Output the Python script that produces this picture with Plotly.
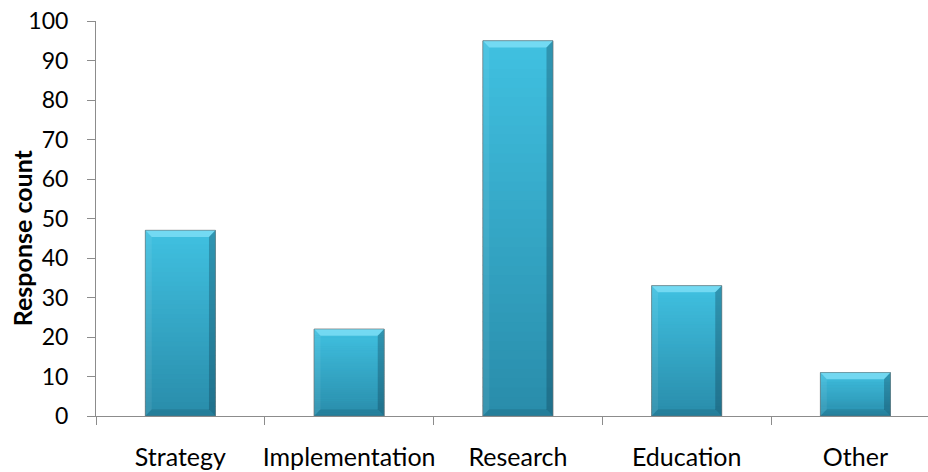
import plotly.graph_objects as go

# Survey responses by area
categories = ["Strategy", "Implementation", "Research", "Education", "Other"]
counts = [47, 22, 95, 33, 11]
y_tick_values = list(range(0, 101, 10))

FONT = "Lato"
BAR_W = 0.415
BEVEL_X = 0.038   # bevel depth along x (category units)
BEVEL_Y = 1.7     # bevel depth along y (count units)
N_BANDS = 40      # steps of the vertical gradient

TOP_RGB = (64, 193, 225)
BOTTOM_RGB = (41, 140, 170)


def mix(a, b, t):
    return "rgb(%d,%d,%d)" % tuple(round(a[i] + (b[i] - a[i]) * t) for i in range(3))


xs = list(range(len(categories)))

fig = go.Figure()
fig.add_trace(go.Bar(
    x=xs,
    y=counts,
    width=BAR_W,
    marker=dict(color=mix(BOTTOM_RGB, TOP_RGB, 0.5),
                line=dict(color="rgba(110,110,110,0.55)", width=1)),
    hoverinfo="x+y",
))

shapes = []
for xc, v in zip(xs, counts):
    x0, x1 = xc - BAR_W / 2, xc + BAR_W / 2
    # vertical gradient, darker towards the base
    for k in range(N_BANDS):
        lo = v * k / N_BANDS
        hi = v * (k + 1) / N_BANDS
        t = (k + 0.5) / N_BANDS
        shapes.append(dict(type="rect", xref="x", yref="y",
                           x0=x0, x1=x1, y0=lo, y1=min(v, hi + v * 0.004),
                           fillcolor=mix(BOTTOM_RGB, TOP_RGB, t),
                           line=dict(width=0), layer="above"))
    by = min(BEVEL_Y, v / 4)
    bevels = [
        # top face highlight
        ([(x0, v), (x1, v), (x1 - BEVEL_X, v - by), (x0 + BEVEL_X, v - by)],
         "rgba(150,235,255,0.6)"),
        # right edge shadow
        ([(x1, v), (x1, 0), (x1 - BEVEL_X, by), (x1 - BEVEL_X, v - by)],
         "rgba(10,50,70,0.3)"),
        # left edge
        ([(x0, v), (x0 + BEVEL_X, v - by), (x0 + BEVEL_X, by), (x0, 0)],
         "rgba(255,255,255,0.07)"),
        # bottom edge
        ([(x0, 0), (x1, 0), (x1 - BEVEL_X, by), (x0 + BEVEL_X, by)],
         "rgba(10,50,70,0.16)"),
    ]
    for pts, col in bevels:
        path = "M " + " L ".join("%f,%f" % p for p in pts) + " Z"
        shapes.append(dict(type="path", xref="x", yref="y", path=path,
                           fillcolor=col, line=dict(width=0), layer="above"))
    # thin outline on top of the bevels
    shapes.append(dict(type="rect", xref="x", yref="y", x0=x0, x1=x1, y0=0, y1=v,
                       line=dict(color="rgba(110,110,110,0.45)", width=1),
                       fillcolor="rgba(0,0,0,0)", layer="above"))

fig.update_layout(
    width=928,
    height=472,
    margin=dict(l=96, r=0, t=21, b=56),
    paper_bgcolor="white",
    plot_bgcolor="white",
    showlegend=False,
    shapes=shapes,
    font=dict(family=FONT, color="#000000", size=22),
    xaxis=dict(
        range=[-0.5, 4.43],
        tickvals=xs,
        ticktext=categories,
        ticks="",
        ticklabelstandoff=19,
        showgrid=False,
        zeroline=False,
        showline=True,
        linecolor="#8C8C8C",
        linewidth=1,
        minor=dict(tickvals=[i - 0.5 for i in range(len(categories) + 1)],
                   ticks="outside", ticklen=8, tickcolor="#8C8C8C", tickwidth=1),
        tickfont=dict(family=FONT, size=25, color="#000000"),
    ),
    yaxis=dict(
        range=[0, 100],
        tickvals=y_tick_values,
        ticks="outside",
        ticklen=8,
        tickcolor="#8C8C8C",
        ticklabelstandoff=14,
        showgrid=False,
        zeroline=False,
        showline=True,
        linecolor="#8C8C8C",
        linewidth=1,
        tickfont=dict(family=FONT, size=23, color="#000000"),
    ),
    annotations=[dict(
        text="<b>Response count</b>",
        textangle=-90,
        xref="paper", yref="paper",
        x=-74 / 832, y=0.45,
        xanchor="center", yanchor="middle",
        showarrow=False,
        font=dict(family=FONT, size=25, color="#000000"),
    )],
)

fig.write_html("out.html")
